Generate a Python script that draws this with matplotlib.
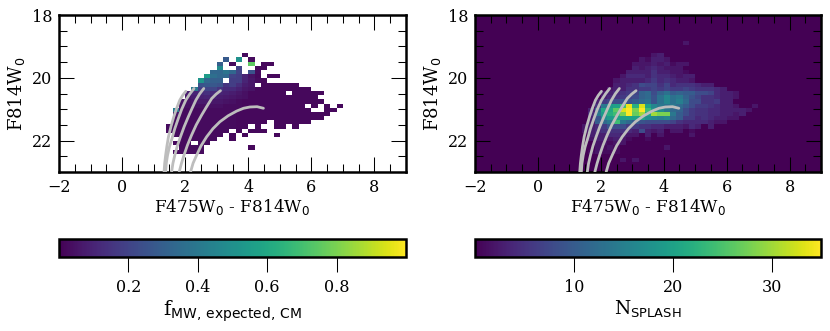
import numpy as np
import matplotlib
matplotlib.use("Agg")
import matplotlib.pyplot as plt
from matplotlib.ticker import MultipleLocator

plt.rcParams['font.family'] = 'DejaVu Serif'

# Histogram bins: columns start at color 1.4, rows start at F814W 18.82 (short rows padded with 0)
color_edges = np.round(np.arange(1.4, 7.41, 0.2), 2)
mag_edges = 18.02 + 0.1333 * np.arange(6, 36)

# MW fraction in percent, top row first, 0 = empty bin
f_mw = [
    [],
    [],
    [],
    [0,0,0,0,0,0,0,0,0,0,0,0,3],
    [0,0,0,0,0,0,0,0,0,28,0,50,0,3],
    [0,0,0,0,0,0,0,0,30,0,3,0,0,75,0,2,2],
    [0,0,0,0,0,0,0,0,48,0,0,20,0,0,2,2],
    [0,0,0,0,0,0,0,33,33,38,33,20,0,25,3],
    [0,0,0,0,0,0,55,36,33,33,20,18,10,5,2,0,2,2],
    [0,0,0,0,0,52,33,30,30,0,18,18,10,6,3,2],
    [0,0,0,0,0,25,27,27,25,15,18,13,8,6,0,2,2,2,2,2,2],
    [0,0,0,0,40,18,20,20,15,12,12,9,6,5,2,2,2,2,2,2,2,2,2],
    [0,0,0,8,10,12,14,12,10,9,8,6,4,2,2,2,2,2,2,0,2,2,2,2,2],
    [0,0,0,6,8,9,10,9,8,7,6,5,4,2,2,2,2,2,2,2,2,2,2,2],
    [0,0,5,5,6,7,7,6,6,5,4,3,2,2,2,2,2,2,2,2,2,2,2,2,2],
    [0,0,4,4,4,4,4,4,4,3,3,3,2,2,2,2,2,2,2,2,2,2,0,2,0,2,0,2],
    [0,42,3,3,3,3,3,3,3,3,3,2,2,2,2,2,2,2,2,2,2,2,2,0,0,2,2],
    [0,5,3,3,3,3,3,3,3,3,3,2,2,2,2,2,2,2,2,2,2,2,2,2,2,2],
    [0,3,3,3,3,3,3,3,3,3,3,2,2,2,2,2,2,2,2,2,2,2,2,2,2],
    [0,3,3,3,3,3,3,3,3,3,3,2,2,2,2,2,0,2,2,2,2,2,2],
    [3,3,3,3,3,3,3,3,3,3,3,2,2,0,2,0,0,2,2,0,2],
    [3,3,3,3,3,3,3,3,3,3,0,2,0,2,2,2],
    [0,3,3,3,3,3,3,3,3,0,2,0,2,0,0,0,0,2],
    [0,0,3,3,3,3,3,3,0,0,2],
    [0,2,3,3,0,3,3],
    [0,0,3,3,3,3,0,0,0,0,0,0,0,2],
    [0,2,3,3,3,3],
]

# SPLASH counts per bin, same binning
n_splash = [
    [0,0,0,0,0,0,0,0,0,0,0,0,0,0,0,0,2],
    [],
    [],
    [0,0,0,0,0,0,0,0,0,0,0,2,3],
    [0,0,0,0,0,0,0,0,0,2,1,3,3,2],
    [0,0,0,0,0,0,0,0,2,2,2,3,2,3,1,2,2],
    [0,0,0,0,0,0,0,0,3,2,3,4,3,2,2,2],
    [0,0,0,0,0,0,0,3,3,3,3,5,3,3,2,2,1],
    [0,0,0,0,0,0,2,4,4,4,3,5,4,4,3,2,3,3],
    [0,0,0,0,0,2,3,3,3,3,4,6,4,5,4,3,3,2],
    [0,0,0,0,0,3,3,4,5,8,7,7,5,7,4,5,5,5,4,3,3],
    [0,0,0,0,2,3,3,5,5,6,6,7,6,7,6,6,7,6,5,5,5,4,3],
    [0,0,0,2,3,4,5,6,7,11,12,8,11,13,10,11,10,10,8,8,7,4,3,3,2],
    [0,0,0,3,4,5,6,7,8,11,12,9,13,16,13,14,11,9,7,5,5,4,3,3,2],
    [0,0,3,6,7,8,9,9,10,12,13,9,13,16,13,15,12,8,8,5,5,6,3,3],
    [0,0,5,14,19,20,24,34,22,33,20,16,14,13,14,12,10,8,6,6,5,4,3,3,2,0,0,2],
    [0,3,12,21,21,26,33,35,28,35,24,18,17,14,12,11,8,6,5,5,4,4,3,3,3,3,2],
    [0,4,14,19,22,24,28,35,27,30,20,30,28,28,14,10,8,6,5,5,4,4,3,3,2,3],
    [0,3,9,17,19,20,20,20,20,20,17,16,15,16,12,10,6,6,4,5,4,3,3,2,2],
    [0,3,10,12,14,24,14,12,10,9,8,8,8,8,7,5,4,4,4,4,3,2,2],
    [2,3,4,6,9,8,8,6,6,5,5,4,4,3,3,3,2,4,3,0,3],
    [2,3,4,5,5,5,5,4,3,8,3,2,3,0,2,2,0,1],
    [0,3,3,3,4,4,3,2,2,0,3,0,2,0,0,0,0,2],
    [0,2,3,3,2,3,2,1,0,0,1],
    [0,0,2,2,1,2,2],
    [0,0,2,1,2,1,0,0,0,0,0,0,0,2],
    [0,1,2,1,1,1],
    [],
    [0,0,0,0,0,0,2,0,2],
]

# Isochrones (color, magnitude)
iso_colors = [
    [1.33, 1.35, 1.38, 1.42, 1.47, 1.55, 1.64, 1.73, 1.83, 1.92, 2.02],
    [1.38, 1.40, 1.44, 1.50, 1.58, 1.67, 1.78, 1.89, 2.02, 2.15, 2.28],
    [1.57, 1.61, 1.67, 1.75, 1.85, 1.97, 2.10, 2.22, 2.34, 2.46, 2.59],
    [1.81, 1.88, 1.96, 2.07, 2.20, 2.35, 2.52, 2.68, 2.84, 2.98, 3.12],
    [2.17, 2.25, 2.36, 2.50, 2.68, 2.88, 3.10, 3.36, 3.63, 3.85, 4.05, 4.28, 4.48],
]
iso_mags = [
    [23.0, 22.73, 22.47, 22.18, 21.88, 21.55, 21.24, 20.97, 20.71, 20.56, 20.43],
    [23.0, 22.73, 22.47, 22.20, 21.94, 21.62, 21.30, 21.00, 20.71, 20.51, 20.34],
    [23.0, 22.73, 22.47, 22.17, 21.88, 21.55, 21.24, 20.97, 20.71, 20.51, 20.34],
    [23.0, 22.73, 22.47, 22.15, 21.83, 21.50, 21.19, 20.92, 20.66, 20.52, 20.41],
    [23.0, 22.72, 22.47, 22.17, 21.88, 21.62, 21.40, 21.21, 21.06, 20.97, 20.93, 20.92, 20.97],
]


def to_grid(rows, first_row, ncols=30):
    grid = np.zeros((len(mag_edges) - 1, ncols))
    for i, row in enumerate(rows):
        grid[first_row + i, :len(row)] = row
    return grid


def style_cmd(ax):
    ax.set_xlim(-2, 9)
    ax.set_ylim(23, 18)
    ax.xaxis.set_major_locator(MultipleLocator(2))
    ax.xaxis.set_minor_locator(MultipleLocator(0.5))
    ax.yaxis.set_major_locator(MultipleLocator(2))
    ax.yaxis.set_minor_locator(MultipleLocator(0.5))
    ax.tick_params(which='major', direction='in', top=True, right=True, length=10.5, width=0.75, labelsize=11.5, pad=5)
    ax.tick_params(which='minor', direction='in', top=True, right=True, length=5.5, width=0.75)
    for s in ax.spines.values():
        s.set_linewidth(1.8)
    ax.set_xlabel(r'F475W$_0$ - F814W$_0$', fontsize=12.2, labelpad=1)
    ax.set_ylabel(r'F814W$_0$', fontsize=13, labelpad=3)
    for xs, ys in zip(iso_colors, iso_mags):
        ax.plot(xs, ys, color='#bdbdbd', lw=2.0, solid_capstyle='round', zorder=3)


def style_cbar(cb, label, size):
    cb.ax.tick_params(which='major', direction='out', length=10.5, width=0.75, labelsize=11.5, pad=5)
    cb.ax.minorticks_off()
    cb.outline.set_linewidth(1.8)
    cb.set_label(label, fontsize=size, labelpad=2)


W, H = 830.0, 331.0
fig = plt.figure(figsize=(8.3, 3.31), dpi=100)
ax1 = fig.add_axes([59 / W, 1 - 172 / H, 347 / W, 157 / H])
ax2 = fig.add_axes([475 / W, 1 - 172 / H, 346 / W, 157 / H])
cax1 = fig.add_axes([59 / W, 1 - 257 / H, 347 / W, 18 / H])
cax2 = fig.add_axes([475 / W, 1 - 257 / H, 346 / W, 18 / H])

fractions = np.ma.masked_equal(to_grid(f_mw, 0), 0) / 100.0
m1 = ax1.pcolormesh(color_edges, mag_edges, fractions, cmap='viridis', vmin=0.0, vmax=1.0)
style_cmd(ax1)

ax2.set_facecolor(plt.get_cmap('viridis')(0.0))
m2 = ax2.pcolormesh(color_edges, mag_edges, to_grid(n_splash, 0), cmap='viridis', vmin=0, vmax=35)
style_cmd(ax2)

cb1 = fig.colorbar(m1, cax=cax1, orientation='horizontal', ticks=[0.2, 0.4, 0.6, 0.8])
style_cbar(cb1, r'f$_{\mathrm{MW,\,expected,\,CM}}$', 14.3)
cb2 = fig.colorbar(m2, cax=cax2, orientation='horizontal', ticks=[10, 20, 30])
style_cbar(cb2, r'N$_{\mathrm{SPLASH}}$', 13.4)

fig.savefig('out.png', dpi=100)
